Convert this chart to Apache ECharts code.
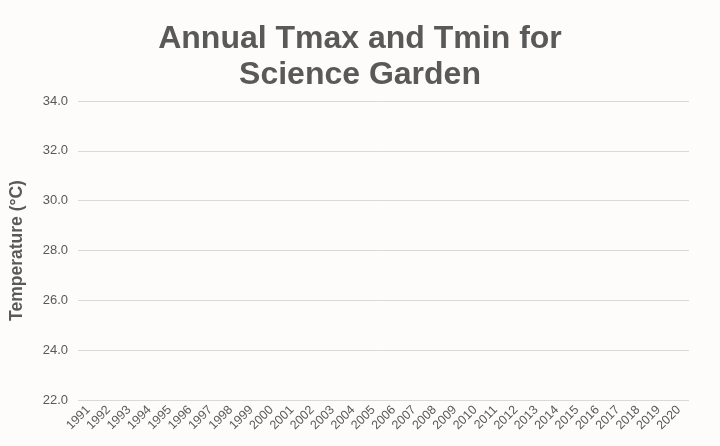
<!DOCTYPE html>
<html>
<head>
<meta charset="utf-8">
<script src="https://cdn.jsdelivr.net/npm/echarts@6/dist/echarts.min.js"></script>
<style>
html,body{margin:0;padding:0;background:#fdfcfb;}
#chart{width:720px;height:446px;}
</style>
</head>
<body>
<div id="chart"></div>
<script>
const years = ['1991','1992','1993','1994','1995','1996','1997','1998','1999','2000','2001','2002','2003','2004','2005','2006','2007','2008','2009','2010','2011','2012','2013','2014','2015','2016','2017','2018','2019','2020'];
// No values are plotted in the reference (all points out of view / missing)
const tmax = years.map(() => null);
const tmin = years.map(() => null);
const yMin = 22, yMax = 34, yStep = 2;

const chart = echarts.init(document.getElementById('chart'), null, {renderer:'canvas'});
chart.setOption({
  backgroundColor: '#fdfcfb',
  animation: false,
  title: {
    text: 'Annual Tmax and Tmin for\nScience Garden',
    left: 'center',
    top: 16,
    textStyle: {fontFamily: 'Liberation Sans, Arial, sans-serif', fontSize: 32, fontWeight: 'bold', color: '#595959', lineHeight: 36}
  },
  grid: {left: 77, right: 31, top: 101, bottom: 46, containLabel: false},
  xAxis: {
    type: 'category',
    data: years,
    boundaryGap: true,
    axisLine: {show: false},
    axisTick: {show: false},
    axisLabel: {rotate: 45, interval: 0, margin: 8, color: '#595959', fontSize: 12.5, fontFamily: 'Liberation Sans, Arial, sans-serif'}
  },
  yAxis: {
    type: 'value',
    min: yMin, max: yMax, interval: yStep,
    name: 'Temperature (°C)',
    nameLocation: 'middle',
    nameGap: 52,
    nameTextStyle: {fontFamily: 'Liberation Sans, Arial, sans-serif', fontSize: 17.5, fontWeight: 'bold', color: '#595959'},
    axisLine: {show: false},
    axisTick: {show: false},
    axisLabel: {color: '#595959', fontSize: 13, margin: 10, fontFamily: 'Liberation Sans, Arial, sans-serif', formatter: v => v.toFixed(1)},
    splitLine: {lineStyle: {color: '#d9d9d9', width: 1}}
  },
  series: [
    {name: 'Tmax', type: 'line', data: tmax, symbol: 'none'},
    {name: 'Tmin', type: 'line', data: tmin, symbol: 'none'}
  ]
});
</script>
</body>
</html>
